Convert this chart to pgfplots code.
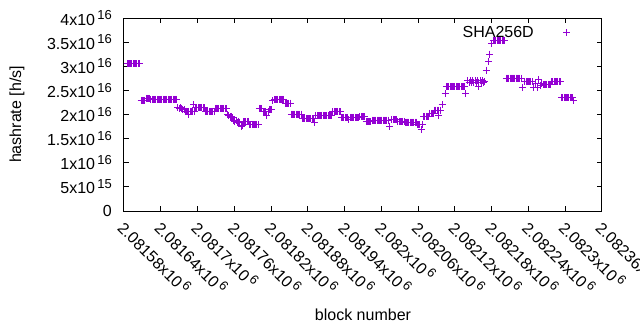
\documentclass[border=0pt]{standalone}
\usepackage{fontspec}
\setmainfont{Liberation Sans}
\usepackage{pgfplots}
\usepackage{pgfplotstable}
\pgfplotsset{compat=1.18}
\definecolor{gpviolet}{HTML}{9400D3}
\newcommand{\sx}[2]{#1x10\hspace{0.14em}\raisebox{0.34em}{\fontsize{13}{13}\selectfont #2}}
% x = block number - 2081580 ; y = hashrate [h/s]
\pgfplotstableread{
x y
5 3.047e16
7 3.047e16
9 3.047e16
11 3.047e16
13 3.047e16
15 3.047e16
17 3.047e16
19 3.047e16
21 3.047e16
23 3.047e16
25 3.047e16
26 3.047e16
28 2.294e16
30 2.294e16
32 2.294e16
34 2.294e16
36 2.336e16
38 2.336e16
40 2.336e16
42 2.336e16
44 2.315e16
46 2.315e16
48 2.315e16
50 2.315e16
52 2.315e16
54 2.315e16
56 2.315e16
58 2.315e16
60 2.315e16
62 2.315e16
64 2.315e16
66 2.315e16
68 2.315e16
70 2.315e16
72 2.315e16
74 2.315e16
76 2.315e16
78 2.315e16
80 2.315e16
82 2.315e16
84 2.315e16
86 2.315e16
88 2.135e16
90 2.125e16
92 2.135e16
94 2.115e16
96 2.10e16
98 2.10e16
100 2.066e16
102 2.07e16
104 2.06e16
105 2.01e16
106 2.066e16
108 2.07e16
110 2.066e16
112 2.06e16
114 2.197e16
115 2.066e16
117 2.14e16
119 2.14e16
121 2.14e16
123 2.14e16
125 2.14e16
127 2.14e16
129 2.14e16
131 2.14e16
133 2.066e16
135 2.066e16
137 2.066e16
139 2.066e16
141 2.066e16
143 2.066e16
145 2.066e16
147 2.066e16
149 2.128e16
151 2.128e16
153 2.128e16
155 2.128e16
157 2.128e16
159 2.128e16
161 2.128e16
163 2.128e16
165 2.128e16
167 2.128e16
169 1.99e16
171 1.975e16
173 1.95e16
175 1.96e16
177 1.93e16
179 1.88e16
181 1.85e16
183 1.87e16
185 1.84e16
187 1.86e16
189 1.84e16
191 1.78e16
192 1.76e16
193 1.78e16
195 1.85e16
197 1.86e16
199 1.85e16
201 1.85e16
203 1.855e16
205 1.79e16
207 1.79e16
209 1.79e16
211 1.79e16
213 1.79e16
215 1.79e16
217 1.79e16
219 1.79e16
221 2.128e16
223 2.128e16
225 2.128e16
227 2.058e16
229 2.058e16
231 2.058e16
233 1.97e16
235 2.058e16
237 2.107e16
239 2.107e16
241 2.107e16
243 2.28e16
245 2.311e16
247 2.311e16
249 2.311e16
251 2.311e16
253 2.311e16
255 2.311e16
257 2.311e16
259 2.311e16
261 2.311e16
263 2.238e16
265 2.238e16
267 2.238e16
269 2.238e16
271 2.238e16
273 2.01e16
275 2.01e16
277 2.01e16
279 2.01e16
281 2.01e16
283 2.01e16
285 2.01e16
287 2.01e16
289 2.01e16
291 1.907e16
293 1.907e16
295 1.907e16
297 1.907e16
299 1.907e16
301 1.907e16
303 1.907e16
305 1.907e16
307 1.907e16
309 1.907e16
311 1.83e16
313 1.975e16
315 1.975e16
317 1.975e16
319 1.975e16
321 1.975e16
323 1.975e16
325 1.975e16
327 1.975e16
329 1.975e16
331 1.975e16
333 1.975e16
335 1.975e16
337 1.975e16
339 1.975e16
341 2.058e16
343 2.058e16
345 2.058e16
347 2.058e16
349 2.058e16
351 2.058e16
353 2.058e16
355 1.938e16
357 1.938e16
359 1.938e16
361 1.938e16
363 1.938e16
365 1.938e16
367 1.89e16
369 1.938e16
371 1.938e16
373 1.938e16
375 1.938e16
377 1.938e16
379 1.938e16
381 1.938e16
383 1.938e16
385 1.958e16
387 1.958e16
389 1.958e16
391 1.958e16
393 1.958e16
395 1.85e16
397 1.85e16
399 1.85e16
401 1.85e16
403 1.85e16
405 1.886e16
407 1.886e16
409 1.886e16
411 1.886e16
413 1.886e16
415 1.886e16
417 1.886e16
419 1.886e16
421 1.886e16
423 1.886e16
425 1.886e16
427 1.886e16
429 1.886e16
431 1.886e16
434 1.76e16
437 1.896e16
439 1.896e16
441 1.896e16
443 1.896e16
445 1.896e16
447 1.85e16
449 1.85e16
451 1.85e16
453 1.85e16
455 1.85e16
457 1.85e16
459 1.84e16
461 1.84e16
463 1.84e16
465 1.84e16
467 1.84e16
469 1.84e16
471 1.84e16
473 1.84e16
475 1.84e16
477 1.84e16
479 1.79e16
481 1.79e16
483 1.79e16
485 1.68e16
487 1.79e16
489 1.96e16
491 1.96e16
493 1.96e16
495 1.96e16
497 1.96e16
499 2.025e16
501 2.025e16
503 2.025e16
505 2.025e16
507 2.093e16
509 2.093e16
511 2.093e16
513 2.093e16
514 1.97e16
516 2.093e16
517 2.093e16
519 2.197e16
524 2.44e16
526 2.577e16
528 2.577e16
530 2.577e16
532 2.577e16
534 2.577e16
536 2.577e16
538 2.577e16
540 2.577e16
542 2.577e16
544 2.577e16
546 2.577e16
548 2.577e16
550 2.577e16
552 2.577e16
554 2.577e16
556 2.577e16
558 2.44e16
561 2.70e16
563 2.66e16
565 2.70e16
567 2.66e16
569 2.70e16
571 2.66e16
573 2.70e16
575 2.66e16
577 2.70e16
578 2.577e16
579 2.66e16
581 2.70e16
583 2.66e16
585 2.70e16
587 2.66e16
589 2.68e16
591 2.92e16
595 3.094e16
597 3.25e16
600 3.48e16
603 3.544e16
605 3.544e16
607 3.544e16
609 3.544e16
611 3.544e16
613 3.544e16
615 3.544e16
617 3.544e16
619 3.544e16
621 3.544e16
624 2.756e16
626 2.756e16
628 2.756e16
630 2.756e16
632 2.756e16
634 2.756e16
636 2.756e16
638 2.756e16
640 2.756e16
642 2.756e16
644 2.756e16
646 2.756e16
648 2.756e16
650 2.56e16
654 2.68e16
656 2.68e16
658 2.68e16
660 2.68e16
662 2.68e16
664 2.68e16
666 2.68e16
668 2.57e16
671 2.65e16
674 2.55e16
677 2.72e16
680 2.60e16
682 2.65e16
684 2.625e16
686 2.625e16
688 2.625e16
690 2.625e16
692 2.625e16
694 2.625e16
696 2.625e16
698 2.675e16
700 2.675e16
702 2.675e16
704 2.675e16
706 2.675e16
708 2.675e16
710 2.675e16
712 2.675e16
714 2.352e16
716 2.352e16
718 2.352e16
720 2.352e16
722 2.352e16
724 2.352e16
726 2.352e16
728 2.352e16
730 2.352e16
732 2.352e16
734 2.30e16
}\hashdata
\begin{document}
\begin{tikzpicture}
\begin{axis}[
  at={(0,0)}, anchor=south west,
  scale only axis, width=478pt, height=193pt,
  xmin=0, xmax=780, ymin=0, ymax=4e16,
  axis line style={line width=1pt},
  tick align=inside, tick pos=both,
  major tick length=5pt,
  every tick/.style={black, line width=1pt},
  xtick={0,60,...,780},
  xticklabels={\sx{2.08158}{6},\sx{2.08164}{6},\sx{2.0817}{6},\sx{2.08176}{6},\sx{2.08182}{6},\sx{2.08188}{6},\sx{2.08194}{6},\sx{2.082}{6},\sx{2.08206}{6},\sx{2.08212}{6},\sx{2.08218}{6},\sx{2.08224}{6},\sx{2.0823}{6},\sx{2.08236}{6}},
  ytick={0,0.5e16,1e16,1.5e16,2e16,2.5e16,3e16,3.5e16,4e16},
  yticklabels={0,\sx{5}{15},\sx{1}{16},\sx{1.5}{16},\sx{2}{16},\sx{2.5}{16},\sx{3}{16},\sx{3.5}{16},\sx{4}{16}},
  scaled y ticks=false,
  tick label style={font=\fontsize{16}{16}\selectfont},
  xticklabel style={anchor=north west, inner sep=0pt, xshift=3pt, yshift=-8pt, rotate=-45},
  yticklabel style={anchor=east, inner sep=0pt, xshift=-12pt},
  xlabel={block number},
  ylabel={hashrate [h/s]},
  label style={font=\fontsize{16}{16}\selectfont},
  xlabel style={at={(0.5,0)}, anchor=base, yshift=-109pt},
  ylabel style={at={(0,0.5)}, anchor=center, yshift=107pt},
  legend style={draw=none, fill=none, at={(1,1)}, anchor=north east, xshift=-18pt, yshift=-4pt,
    font=\fontsize{16}{16}\selectfont, legend plot pos=right},
  legend image code/.code={\path[draw=none,fill=none] (0pt,-3pt) rectangle (45pt,3pt); \draw[#1] plot coordinates {(31pt,0pt)};},
]
\addplot[only marks, mark=+, mark size=3.5pt, color=gpviolet, line width=1pt] table[x=x,y=y] {\hashdata};
\addlegendentry{SHA256D}
\end{axis}
\pgfresetboundingbox
\path[use as bounding box] (current axis.south west) ++(-124pt,-119pt) rectangle ++(640pt,330pt);
\end{tikzpicture}
\end{document}
